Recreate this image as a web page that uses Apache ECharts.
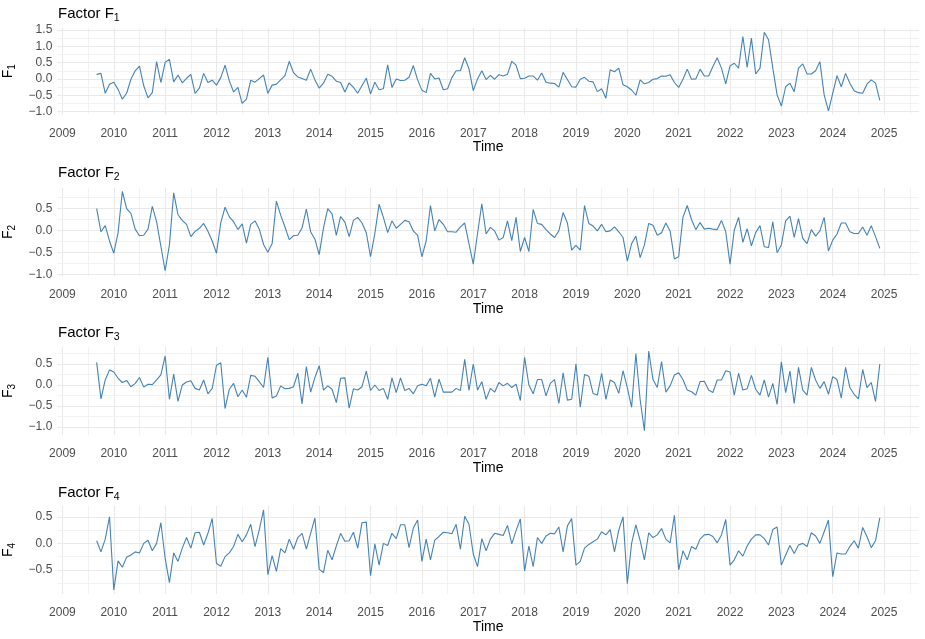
<!DOCTYPE html>
<html>
<head>
<meta charset="utf-8">
<script src="https://cdn.jsdelivr.net/npm/echarts@6/dist/echarts.min.js"></script>
<style>
html, body { margin: 0; padding: 0; background: #fff; }
#chart { width: 925px; height: 639px; }
</style>
</head>
<body>
<div id="chart"></div>
<script>
// monthly factor estimates, Sep 2009 .. Dec 2024
const f1 = [
  0.14, 0.17, -0.44, -0.16, -0.10, -0.32, -0.62, -0.44, -0.01, 0.25,
  0.39, -0.21, -0.58, -0.42, 0.53, -0.11, 0.51, 0.60, -0.09, 0.12,
  -0.12, 0.02, 0.14, -0.44, -0.28, 0.17, -0.11, -0.04, -0.19, 0.04,
  0.42, -0.06, -0.40, -0.26, -0.75, -0.62, -0.04, -0.10, 0.01, 0.12,
  -0.44, -0.19, -0.16, -0.03, 0.10, 0.54, 0.19, 0.06, 0.01, -0.04,
  0.30, -0.03, -0.28, -0.13, 0.14, 0.08, -0.07, -0.11, -0.40, -0.12,
  -0.26, -0.44, -0.20, 0.02, -0.46, -0.10, -0.33, -0.30, 0.43, -0.26,
  0.00, -0.05, -0.04, 0.05, 0.41, -0.03, -0.35, -0.42, 0.17, 0.00,
  0.03, -0.33, -0.30, 0.04, 0.25, 0.25, 0.65, 0.31, -0.36, 0.00,
  0.25, -0.02, 0.11, -0.01, 0.13, 0.09, 0.14, 0.54, 0.42, 0.01,
  0.02, 0.09, 0.09, -0.04, 0.18, -0.10, -0.13, -0.14, -0.25, 0.20,
  -0.02, -0.24, -0.25, -0.01, 0.05, -0.07, -0.09, -0.39, -0.30, -0.59,
  0.28, 0.22, 0.33, -0.18, -0.24, -0.34, -0.50, -0.03, -0.15, -0.11,
  -0.01, 0.01, 0.09, 0.08, 0.13, -0.11, -0.26, -0.01, 0.30, -0.01,
  0.00, 0.30, 0.09, 0.09, 0.38, 0.65, 0.33, -0.15, 0.40, 0.48,
  0.33, 1.30, 0.35, 1.25, 0.15, 0.33, 1.43, 1.20, 0.33, -0.49,
  -0.83, -0.24, -0.13, -0.39, 0.33, 0.46, 0.15, 0.15, 0.25, 0.53,
  -0.49, -0.98, -0.44, 0.10, -0.24, 0.17, -0.13, -0.36, -0.42, -0.44,
  -0.16, -0.03, -0.13, -0.66
];
const f2 = [
  0.50, -0.03, 0.11, -0.24, -0.52, -0.05, 0.89, 0.50, 0.39, 0.03,
  -0.12, -0.11, 0.03, 0.55, 0.20, -0.36, -0.92, -0.33, 0.86, 0.36,
  0.23, 0.14, -0.14, -0.02, 0.05, 0.16, -0.02, -0.24, -0.52, 0.18,
  0.53, 0.31, 0.20, 0.02, 0.15, -0.29, 0.14, 0.22, 0.03, -0.32,
  -0.50, -0.30, 0.67, 0.35, 0.08, -0.21, -0.12, -0.11, 0.06, 0.49,
  -0.03, -0.20, -0.55, 0.06, 0.50, 0.38, -0.11, 0.32, 0.19, -0.14,
  0.23, 0.30, 0.17, -0.05, -0.60, -0.07, 0.60, 0.30, -0.05, 0.22,
  0.05, 0.14, 0.23, 0.20, -0.01, -0.11, -0.60, -0.24, 0.57, -0.01,
  0.25, 0.14, -0.03, -0.03, -0.04, 0.08, 0.17, -0.30, -0.77, -0.07,
  0.61, -0.08, 0.07, -0.01, -0.22, -0.16, 0.22, -0.23, 0.30, -0.48,
  -0.16, -0.48, 0.48, 0.16, 0.14, 0.02, -0.08, -0.16, -0.01, 0.41,
  0.17, -0.45, -0.34, -0.45, 0.57, 0.16, 0.10, -0.01, 0.14, -0.03,
  -0.01, 0.08, -0.03, -0.16, -0.70, -0.30, -0.13, -0.62, -0.33, 0.16,
  0.12, -0.11, -0.05, 0.17, -0.01, -0.65, -0.60, 0.30, 0.57, 0.25,
  0.02, 0.18, 0.03, 0.05, 0.03, 0.02, 0.23, -0.03, -0.77, 0.01,
  0.30, -0.27, 0.04, -0.35, -0.05, 0.11, -0.37, -0.39, 0.20, -0.51,
  -0.33, 0.22, 0.33, -0.16, 0.27, -0.18, -0.30, 0.02, -0.13, -0.01,
  0.30, -0.47, -0.22, -0.08, 0.17, 0.17, -0.03, -0.07, -0.07, 0.08,
  -0.11, 0.11, -0.14, -0.41
];
const f3 = [
  0.54, -0.33, 0.12, 0.36, 0.31, 0.16, 0.06, 0.11, -0.04, 0.04,
  0.18, -0.05, 0.02, 0.01, 0.12, 0.24, 0.69, -0.34, 0.26, -0.39,
  0.00, 0.07, 0.10, -0.08, -0.12, 0.12, -0.21, -0.08, 0.47, 0.53,
  -0.56, -0.10, 0.04, -0.28, -0.12, -0.29, 0.23, 0.21, 0.08, -0.06,
  0.66, -0.31, -0.26, -0.02, -0.09, -0.08, -0.04, 0.28, -0.45, 0.44,
  -0.17, 0.18, 0.46, -0.12, -0.02, -0.10, -0.42, 0.16, 0.17, -0.55,
  -0.09, -0.12, -0.04, 0.33, -0.13, 0.00, -0.13, -0.08, -0.34, 0.17,
  -0.18, 0.17, -0.13, -0.08, -0.21, -0.02, 0.02, -0.02, 0.16, -0.29,
  0.14, -0.17, -0.17, -0.17, -0.08, -0.13, 0.61, -0.13, 0.50, -0.12,
  0.08, -0.34, -0.08, -0.17, 0.06, -0.02, 0.04, -0.06, 0.02, -0.37,
  0.66, 0.00, -0.21, 0.13, 0.13, -0.26, 0.04, 0.13, -0.44, 0.29,
  -0.36, -0.34, 0.50, -0.53, 0.25, 0.21, -0.20, -0.24, 0.28, -0.34,
  0.12, 0.06, -0.20, 0.34, -0.06, -0.53, 0.75, -0.35, -1.09, 0.81,
  0.13, -0.06, 0.56, -0.17, -0.02, 0.24, 0.29, 0.13, -0.12, -0.16,
  -0.24, 0.08, 0.09, -0.12, -0.18, 0.12, 0.12, 0.34, 0.31, -0.24,
  0.28, -0.12, -0.09, 0.23, -0.10, -0.24, 0.12, -0.29, 0.04, -0.46,
  0.55, -0.18, 0.33, -0.44, 0.42, -0.12, -0.24, 0.42, 0.12, -0.08,
  0.08, -0.22, 0.20, 0.13, -0.31, 0.42, -0.06, -0.22, -0.33, 0.37,
  -0.06, 0.06, -0.39, 0.50
];
const f4 = [
  0.05, -0.16, 0.08, 0.50, -0.88, -0.33, -0.45, -0.26, -0.22, -0.16,
  -0.18, 0.00, 0.06, -0.14, 0.00, 0.39, -0.28, -0.74, -0.18, -0.34,
  -0.09, 0.11, -0.09, 0.20, 0.21, -0.03, 0.19, 0.47, -0.38, -0.43,
  -0.25, -0.18, -0.06, 0.17, 0.03, 0.16, 0.36, -0.06, 0.26, 0.63,
  -0.59, -0.23, -0.53, -0.10, -0.18, 0.08, -0.11, 0.11, 0.19, -0.11,
  0.19, 0.48, -0.49, -0.55, -0.13, -0.31, -0.05, 0.19, 0.04, 0.05,
  0.21, -0.09, 0.39, 0.40, -0.61, -0.01, -0.41, 0.00, -0.04, 0.19,
  0.09, 0.35, 0.35, -0.08, 0.29, 0.44, -0.34, 0.08, -0.31, 0.06,
  0.13, 0.21, 0.20, 0.18, 0.36, -0.11, 0.51, 0.36, -0.20, -0.44,
  0.09, -0.14, 0.08, 0.19, 0.17, 0.15, 0.34, -0.01, 0.24, 0.46,
  -0.52, -0.05, -0.44, 0.11, 0.00, 0.14, 0.19, 0.18, 0.31, -0.16,
  0.33, 0.47, -0.41, -0.34, -0.09, -0.02, 0.03, 0.08, 0.22, 0.16,
  0.26, -0.16, 0.25, 0.50, -0.76, 0.00, 0.35, 0.05, -0.31, 0.20,
  0.11, 0.16, 0.28, 0.08, 0.01, 0.53, -0.50, -0.14, -0.31, -0.06,
  -0.11, 0.08, 0.16, 0.17, 0.13, 0.01, 0.16, 0.45, -0.41, -0.31,
  -0.14, -0.24, -0.05, 0.08, 0.16, 0.16, 0.09, -0.03, 0.26, 0.31,
  -0.41, -0.22, -0.04, -0.19, -0.03, 0.00, -0.06, 0.20, 0.14, 0.00,
  0.22, 0.44, -0.63, -0.18, -0.20, -0.20, -0.06, 0.05, -0.09, 0.30,
  0.13, -0.08, 0.05, 0.48
];

const yearTicks = [2009, 2010, 2011, 2012, 2013, 2014, 2015, 2016, 2017,
  2018, 2019, 2020, 2021, 2022, 2023, 2024, 2025];
const yTicks1 = [-1, -0.5, 0, 0.5, 1, 1.5];
const yTicks2 = [-1, -0.5, 0, 0.5];
const yTicks3 = [-1, -0.5, 0, 0.5];
const yTicks4 = [-0.5, 0, 0.5];

// time axis: first obs Sep 2009
let time = [];
for (let i = 0; i < f1.length; i++) {
  time.push(2009 + (8 + i) / 12);
}

const font = 'Liberation Sans, Arial, sans-serif';
const xMin = 2008.9, xMax = 2025.68;

const panels = [
  { n: 1, data: f1, ticks: yTicks1, min: -1.09, max: 1.56, top: 28, height: 86.5, titleTop: 4 },
  { n: 2, data: f2, ticks: yTicks2, min: -1.04, max: 0.97, top: 188, height: 88, titleTop: 163 },
  { n: 3, data: f3, ticks: yTicks3, min: -1.19, max: 0.905, top: 347, height: 88, titleTop: 323 },
  { n: 4, data: f4, ticks: yTicks4, min: -0.955, max: 0.705, top: 506, height: 88, titleTop: 483 }
];

// ggplot-style major/minor grid lines
function gridLines(ymin, ymax) {
  let out = [];
  for (let v = 2009; v <= 2025.5; v += 0.5) {
    let major = v % 1 === 0;
    out.push({ xAxis: v, lineStyle: { color: major ? '#e9e9e9' : '#f1f1f1', width: major ? 1.1 : 0.9, type: 'solid' } });
  }
  for (let v = Math.ceil(ymin / 0.25) * 0.25; v <= ymax; v += 0.25) {
    let major = Math.abs(v * 2 - Math.round(v * 2)) < 1e-9;
    out.push({ yAxis: v, lineStyle: { color: major ? '#e9e9e9' : '#f1f1f1', width: major ? 1.1 : 0.9, type: 'solid' } });
  }
  return out;
}

const rich = function (size, sub) {
  return {
    a: { fontSize: size, fontFamily: font, fontWeight: 'normal', color: '#000', lineHeight: 20, verticalAlign: 'middle' },
    s: { fontSize: sub, fontFamily: font, fontWeight: 'normal', color: '#000', lineHeight: 12, verticalAlign: 'bottom' }
  };
};

let option = {
  animation: false,
  backgroundColor: '#fff',
  title: [],
  grid: [],
  xAxis: [],
  yAxis: [],
  series: []
};

panels.forEach(function (p, k) {
  option.title.push({
    text: '{a|Factor F}{s|' + p.n + '}',
    left: 58,
    top: p.titleTop,
    padding: 0,
    textStyle: { fontWeight: 'normal', rich: rich(15, 10.5) }
  });
  option.grid.push({
    left: 57.3,
    right: 6,
    top: p.top,
    height: p.height,
    outerBoundsMode: 'none',
    containLabel: false
  });
  option.xAxis.push({
    type: 'value',
    gridIndex: k,
    min: xMin,
    max: xMax,
    axisLine: { show: false },
    axisTick: { show: false },
    splitLine: { show: false },
    axisLabel: {
      customValues: yearTicks,
      formatter: function (v) { return String(v); },
      color: '#4d4d4d',
      fontSize: 12,
      fontFamily: font,
      margin: 13
    },
    name: 'Time',
    nameLocation: 'middle',
    nameGap: 26,
    nameTextStyle: { color: '#000', fontSize: 14, fontFamily: font }
  });
  option.yAxis.push({
    type: 'value',
    gridIndex: k,
    min: p.min,
    max: p.max,
    axisLine: { show: false },
    axisTick: { show: false },
    splitLine: { show: false },
    axisLabel: {
      customValues: p.ticks,
      formatter: function (v) { return v.toFixed(1).replace('-', '\u2212'); },
      color: '#4d4d4d',
      fontSize: 12,
      fontFamily: font,
      margin: 5
    },
    name: '{a|F}{s|' + p.n + '}',
    nameLocation: 'middle',
    nameRotate: 90,
    nameGap: 33,
    nameTextStyle: { rich: rich(14, 10) }
  });
  option.series.push({
    type: 'line',
    xAxisIndex: k,
    yAxisIndex: k,
    data: time.map(function (t, i) { return [t, p.data[i]]; }),
    showSymbol: false,
    symbol: 'none',
    lineStyle: { color: '#4682b4', width: 1.1 },
    z: 3,
    markLine: {
      silent: true,
      z: 1,
      symbol: ['none', 'none'],
      label: { show: false },
      emphasis: { disabled: true },
      data: gridLines(p.min, p.max)
    }
  });
});

let chart = echarts.init(document.getElementById('chart'));
chart.setOption(option);
</script>
</body>
</html>
